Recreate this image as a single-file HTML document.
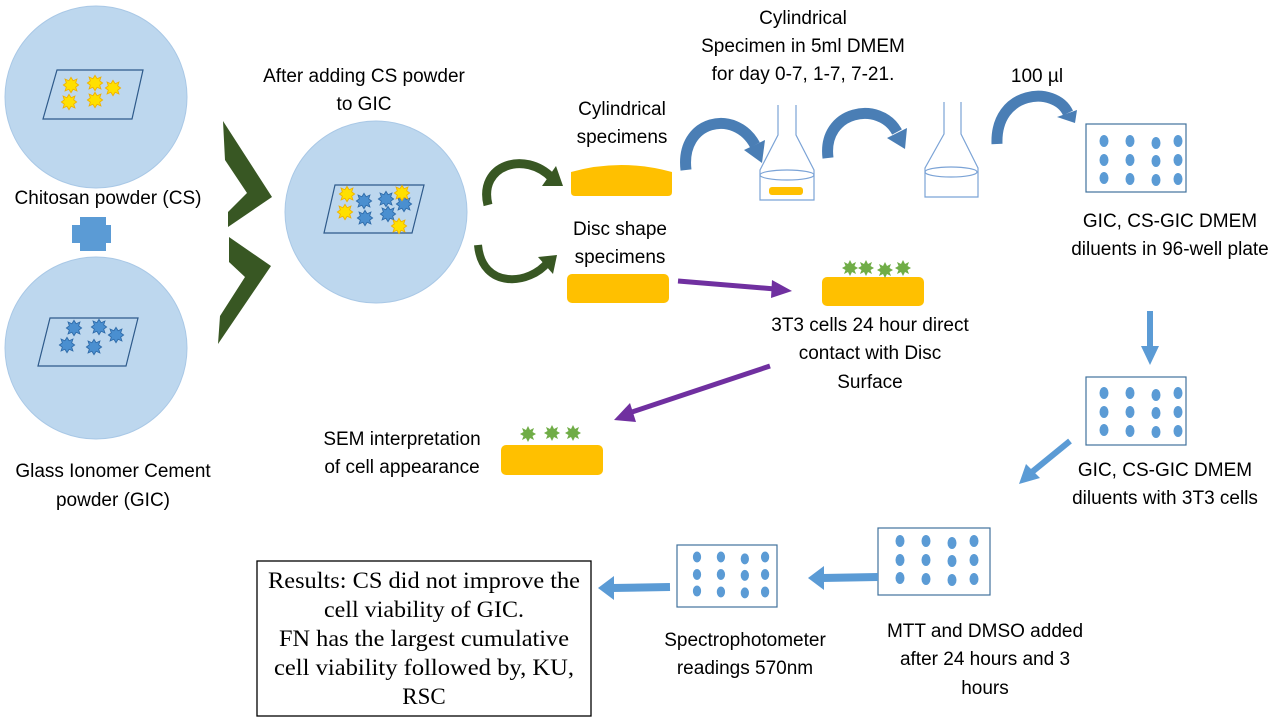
<!DOCTYPE html>
<html><head><meta charset="utf-8"><style>
html,body{margin:0;padding:0;background:#fff;}
svg{display:block;}
.t{font-family:"Liberation Sans",sans-serif;font-size:19px;fill:#000;}
.s{font-family:"Liberation Serif",serif;font-size:23px;fill:#000;}
</style></head><body>
<svg width="1280" height="720" viewBox="0 0 1280 720" xmlns="http://www.w3.org/2000/svg">
<defs>
<g id="ys"><polygon transform="scale(0.85)" points="0,-9 2.5,-5 7,-7 5.5,-2.5 9,0 5.5,2.5 7,7 2.5,5 0,9 -2.5,5 -7,7 -5.5,2.5 -9,0 -5.5,-2.5 -7,-7 -2.5,-5" fill="#ffe000" stroke="#f0b000" stroke-width="1"/></g>
<g id="bs"><polygon transform="scale(0.85)" points="0,-9 2.5,-5 7,-7 5.5,-2.5 9,0 5.5,2.5 7,7 2.5,5 0,9 -2.5,5 -7,7 -5.5,2.5 -9,0 -5.5,-2.5 -7,-7 -2.5,-5" fill="#4a8fd0" stroke="#2e6aa8" stroke-width="1"/></g>
<g id="gs"><polygon points="0,-8 2,-4 6,-6 4.5,-2 8,0 4.5,2 6,6 2,4 0,8 -2,4 -6,6 -4.5,2 -8,0 -4.5,-2 -6,-6 -2,-4" fill="#70ad47"/></g>
<g id="wells" fill="#5b9bd5">
<ellipse cx="0" cy="0" rx="4.5" ry="6"/><ellipse cx="26" cy="0" rx="4.5" ry="6"/><ellipse cx="52" cy="2" rx="4.5" ry="6"/><ellipse cx="74" cy="0" rx="4.5" ry="6"/>
<ellipse cx="0" cy="19" rx="4.5" ry="6"/><ellipse cx="26" cy="19" rx="4.5" ry="6"/><ellipse cx="52" cy="20" rx="4.5" ry="6"/><ellipse cx="74" cy="19" rx="4.5" ry="6"/>
<ellipse cx="0" cy="37" rx="4.5" ry="6"/><ellipse cx="26" cy="38" rx="4.5" ry="6"/><ellipse cx="52" cy="39" rx="4.5" ry="6"/><ellipse cx="74" cy="38" rx="4.5" ry="6"/>
</g>
</defs>

<circle cx="96" cy="97" r="91" fill="#bdd7ee" stroke="#a9c8e6"/>
<circle cx="96" cy="348" r="91" fill="#bdd7ee" stroke="#a9c8e6"/>
<circle cx="376" cy="212" r="91" fill="#bdd7ee" stroke="#a9c8e6"/>
<polygon points="57,70 143,70 132,119 43,119" fill="none" stroke="#2e5a8a" stroke-width="1.2"/>
<use href="#ys" x="71" y="85"/><use href="#ys" x="95" y="83"/><use href="#ys" x="113" y="88"/><use href="#ys" x="69" y="102"/><use href="#ys" x="95" y="100"/>
<polygon points="50,318 138,318 126,366 38,366" fill="none" stroke="#2e5a8a" stroke-width="1.2"/>
<use href="#bs" x="74" y="328"/><use href="#bs" x="99" y="327"/><use href="#bs" x="116" y="335"/><use href="#bs" x="67" y="345"/><use href="#bs" x="94" y="347"/>
<polygon points="335,185 424,185 412,233 324,233" fill="none" stroke="#2e5a8a" stroke-width="1.2"/>
<use href="#ys" x="347" y="194"/><use href="#ys" x="345" y="212"/><use href="#bs" x="364" y="201"/><use href="#bs" x="386" y="199"/><use href="#bs" x="404" y="204"/><use href="#bs" x="365" y="218"/><use href="#bs" x="388" y="214"/><use href="#ys" x="402" y="193"/><use href="#ys" x="399" y="226"/>

<polygon points="80,217 106,217 106,225 111,225 111,243 106,243 106,251 80,251 80,243 72,243 72,225 80,225" fill="#5b9bd5"/>

<polygon points="223,121 272,197 228,227 228,212 247,193 225,160" fill="#385723"/>
<polygon points="229,237 271,266 218,344 220,316 245,277 229,262" fill="#385723"/>

<path d="M488,205 C478,165 525,150 552,178" fill="none" stroke="#385723" stroke-width="9"/>
<polygon points="542,186 563,186 556,166" fill="#385723"/>
<path d="M478,245 C482,290 530,285 548,262" fill="none" stroke="#385723" stroke-width="8"/>
<polygon points="538,257 557,255 553,274" fill="#385723"/>

<path d="M571,172 Q621,158 672,172 L672,192 Q672,196 668,196 L575,196 Q571,196 571,192 Z" fill="#ffc000"/>
<rect x="567" y="274" width="102" height="29" rx="5" fill="#ffc000"/>
<rect x="822" y="277" width="102" height="29" rx="5" fill="#ffc000"/>
<use href="#gs" x="850" y="268"/><use href="#gs" x="866" y="268"/><use href="#gs" x="885" y="270"/><use href="#gs" x="903" y="268"/>
<rect x="501" y="445" width="102" height="30" rx="5" fill="#ffc000"/>
<use href="#gs" x="528" y="434"/><use href="#gs" x="552" y="433"/><use href="#gs" x="573" y="433"/>

<path d="M686,170 C680,120 735,108 755,145" fill="none" stroke="#4a7eb5" stroke-width="11"/>
<polygon points="744,150 765,140 762,163" fill="#4a7eb5"/>
<path d="M828,158 C822,110 880,100 897,132" fill="none" stroke="#4a7eb5" stroke-width="11"/>
<polygon points="887,138 907,128 905,149" fill="#4a7eb5"/>
<path d="M997,144 C995,90 1055,85 1068,113" fill="none" stroke="#4a7eb5" stroke-width="11"/>
<polygon points="1057,117 1077,110 1075,123" fill="#4a7eb5"/>

<g fill="none" stroke="#7ba3d6" stroke-width="1.2">
<path d="M778,105 L778,135 L760,170 L760,200 L814,200 L814,170 L796,135 L796,105"/>
<ellipse cx="787" cy="175" rx="27" ry="5"/>
<path d="M944,102 L944,134 L925,168 L925,197 L978,197 L978,168 L961,134 L961,102"/>
<ellipse cx="951" cy="172" rx="26" ry="5"/>
</g>
<rect x="769" y="187" width="34" height="8" rx="3" fill="#ffc000"/>

<g fill="none" stroke="#41719c" stroke-width="1.2">
<rect x="1086" y="124" width="100" height="68"/>
<rect x="1086" y="377" width="100" height="68"/>
<rect x="878" y="528" width="112" height="67"/>
<rect x="677" y="545" width="100" height="62"/>
</g>
<use href="#wells" x="1104" y="141"/>
<use href="#wells" x="1104" y="393"/>
<use href="#wells" x="900" y="541"/>
<use href="#wells" x="697" y="557" transform="translate(697,557) scale(0.92) translate(-697,-557)"/>

<line x1="678" y1="281" x2="775" y2="289" stroke="#7030a0" stroke-width="5"/>
<polygon points="772,280 792,291 771,298" fill="#7030a0"/>
<line x1="770" y1="366" x2="632" y2="412" stroke="#7030a0" stroke-width="5"/>
<polygon points="630,403 614,420 636,422" fill="#7030a0"/>

<line x1="1150" y1="311" x2="1150" y2="350" stroke="#5b9bd5" stroke-width="6"/>
<polygon points="1141,346 1159,346 1150,365" fill="#5b9bd5"/>
<line x1="1070" y1="441" x2="1032" y2="472" stroke="#5b9bd5" stroke-width="6"/>
<polygon points="1026,464 1040,478 1019,484" fill="#5b9bd5"/>
<line x1="878" y1="577" x2="822" y2="578" stroke="#5b9bd5" stroke-width="8"/>
<polygon points="824,566 824,590 808,578" fill="#5b9bd5"/>
<line x1="670" y1="587" x2="612" y2="588" stroke="#5b9bd5" stroke-width="8"/>
<polygon points="614,576 614,600 598,588" fill="#5b9bd5"/>

<text class="t" x="108" y="204" text-anchor="middle">Chitosan powder (CS)</text>
<text class="t" x="113" y="477" text-anchor="middle">Glass Ionomer Cement</text>
<text class="t" x="113" y="506" text-anchor="middle">powder (GIC)</text>
<text class="t" x="364" y="82" text-anchor="middle">After adding CS powder</text>
<text class="t" x="364" y="110" text-anchor="middle">to GIC</text>
<text class="t" x="622" y="115" text-anchor="middle">Cylindrical</text>
<text class="t" x="622" y="143" text-anchor="middle">specimens</text>
<text class="t" x="620" y="235" text-anchor="middle">Disc shape</text>
<text class="t" x="620" y="263" text-anchor="middle">specimens</text>
<text class="t" x="803" y="24" text-anchor="middle">Cylindrical</text>
<text class="t" x="803" y="52" text-anchor="middle">Specimen in 5ml DMEM</text>
<text class="t" x="803" y="80" text-anchor="middle">for day 0-7, 1-7, 7-21.</text>
<text class="t" x="1037" y="82" text-anchor="middle">100 µl</text>
<text class="t" x="1170" y="227" text-anchor="middle">GIC, CS-GIC DMEM</text>
<text class="t" x="1170" y="255" text-anchor="middle">diluents in 96-well plate</text>
<text class="t" x="870" y="331" text-anchor="middle">3T3 cells 24 hour direct</text>
<text class="t" x="870" y="359" text-anchor="middle">contact with Disc</text>
<text class="t" x="870" y="388" text-anchor="middle">Surface</text>
<text class="t" x="402" y="445" text-anchor="middle">SEM interpretation</text>
<text class="t" x="402" y="473" text-anchor="middle">of cell appearance</text>
<text class="t" x="1165" y="476" text-anchor="middle">GIC, CS-GIC DMEM</text>
<text class="t" x="1165" y="504" text-anchor="middle">diluents with 3T3 cells</text>
<text class="t" x="745" y="646" text-anchor="middle">Spectrophotometer</text>
<text class="t" x="745" y="674" text-anchor="middle">readings 570nm</text>
<text class="t" x="985" y="637" text-anchor="middle">MTT  and DMSO added</text>
<text class="t" x="985" y="665" text-anchor="middle">after 24 hours and 3</text>
<text class="t" x="985" y="694" text-anchor="middle">hours</text>

<rect x="257" y="561" width="334" height="155" fill="#fff" stroke="#000" stroke-width="1.3"/>
<text class="s" x="424" y="588" text-anchor="middle" textLength="312" lengthAdjust="spacingAndGlyphs">Results: CS did not improve the</text>
<text class="s" x="424" y="617" text-anchor="middle" textLength="200" lengthAdjust="spacingAndGlyphs">cell viability of GIC.</text>
<text class="s" x="424" y="646" text-anchor="middle" textLength="290" lengthAdjust="spacingAndGlyphs">FN has the largest cumulative</text>
<text class="s" x="424" y="675" text-anchor="middle" textLength="300" lengthAdjust="spacingAndGlyphs">cell viability followed by, KU,</text>
<text class="s" x="424" y="704" text-anchor="middle">RSC</text>
</svg>
</body></html>
